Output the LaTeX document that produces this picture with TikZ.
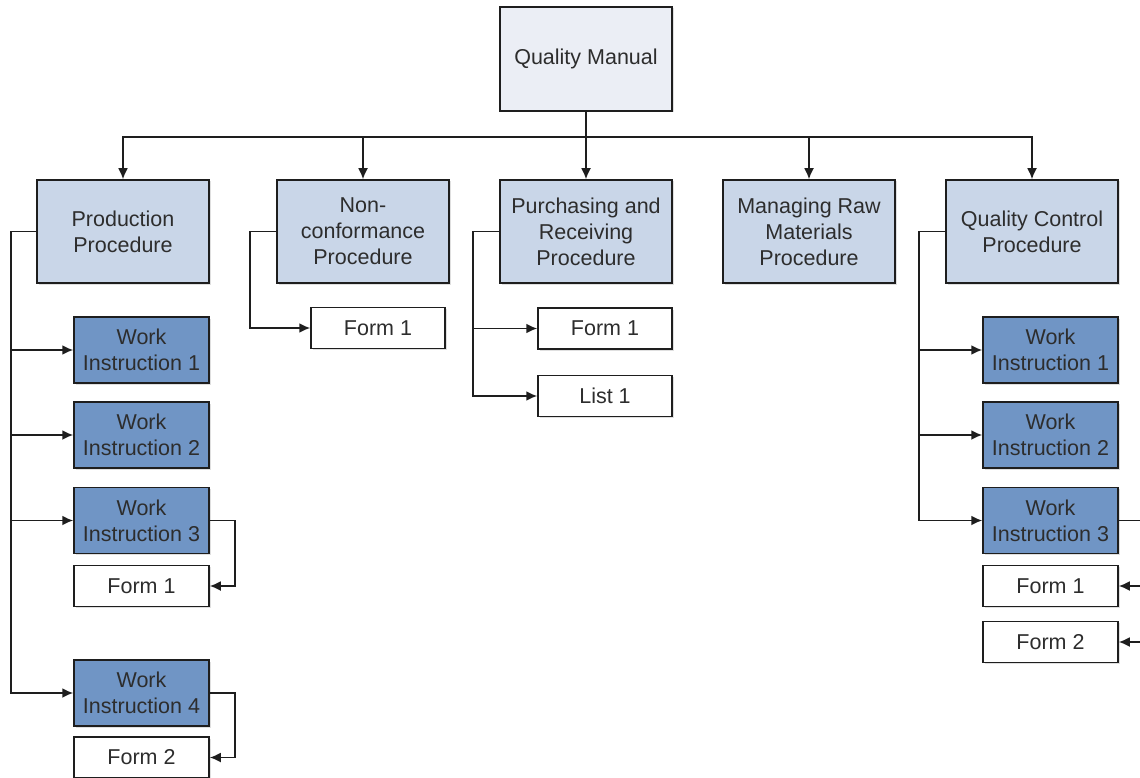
\documentclass[tikz,border=0pt]{standalone}
\usepackage{fontspec}
\setmainfont{Liberation Sans}
\usetikzlibrary{arrows.meta,shadows}
\definecolor{manualgrey}{RGB}{235,238,245}
\definecolor{procblue}{RGB}{201,214,232}
\definecolor{workblue}{RGB}{112,149,197}
\definecolor{linegrey}{RGB}{30,30,30}
\definecolor{textgrey}{RGB}{45,45,45}
\tikzset{
  doc/.style={draw=linegrey,line width=1.5pt,fill=white,align=center,text=textgrey,
              font=\fontsize{21.5}{26}\selectfont,inner sep=2pt,
              drop shadow={shadow xshift=1.5pt,shadow yshift=-1.5pt,opacity=0.25}},
  manual/.style={doc,fill=manualgrey,minimum width=172pt,minimum height=104pt},
  procedure/.style={doc,fill=procblue,minimum width=172pt,minimum height=103pt},
  instruction/.style={doc,fill=workblue,minimum width=135pt,minimum height=66pt},
  record/.style={doc,minimum width=135pt,minimum height=41pt},
  link/.style={linegrey,line width=1.8pt},
  flow/.style={link,-{Latex[length=11pt,width=10pt]}},
}
\begin{document}
\begin{tikzpicture}[x=1pt,y=-1pt]
  \path[use as bounding box] (0,0) rectangle (1140,778);

  \node[manual] (qm) at (586,59) {Quality Manual};

  % procedures
  \node[procedure] (prod) at (123,231.5) {Production\\Procedure};
  \node[procedure] (ncp) at (363,231.5) {Non-\\conformance\\Procedure};
  \node[procedure] (pur) at (586,231.5) {Purchasing and\\Receiving\\Procedure};
  \node[procedure] (raw) at (809,231.5) {Managing Raw\\Materials\\Procedure};
  \node[procedure] (qc) at (1032,231.5) {Quality Control\\Procedure};

  % production documents
  \node[instruction] (pwi1) at (141.5,350) {Work\\Instruction 1};
  \node[instruction] (pwi2) at (141.5,435) {Work\\Instruction 2};
  \node[instruction] (pwi3) at (141.5,520.5) {Work\\Instruction 3};
  \node[record] (pf1) at (141.5,586) {Form 1};
  \node[instruction] (pwi4) at (141.5,693) {Work\\Instruction 4};
  \node[record] (pf2) at (141.5,757.5) {Form 2};

  \node[record,minimum width=134pt] (nf1) at (378,328) {Form 1};
  \node[record,minimum width=134pt] (uf1) at (605,328.5) {Form 1};
  \node[record,minimum width=134pt] (ul1) at (605,396) {List 1};

  % quality control documents
  \node[instruction] (qwi1) at (1050.5,350) {Work\\Instruction 1};
  \node[instruction] (qwi2) at (1050.5,435) {Work\\Instruction 2};
  \node[instruction] (qwi3) at (1050.5,520.5) {Work\\Instruction 3};
  \node[record] (qf1) at (1050.5,586) {Form 1};
  \node[record] (qf2) at (1050.5,642) {Form 2};
  \coordinate (qcedge) at (1140,520.5);
  \coordinate (qcedge1) at (1140,586);
  \coordinate (qcedge2) at (1140,642);

  \foreach \p in {prod,ncp,pur,raw,qc}
    \draw[flow] (qm.south) -- ++(0,25) -| (\p.north);

  \foreach \c in {pwi1,pwi2,pwi3,pwi4}
    \draw[flow] (prod.west) -- ++(-25,0) |- (\c.west);
  \draw[flow] (pwi3.east) -- ++(25,0) |- (pf1.east);
  \draw[flow] (pwi4.east) -- ++(25,0) |- (pf2.east);

  \draw[flow] (ncp.west) -- ++(-26,0) |- (nf1.west);
  \foreach \c in {uf1,ul1}
    \draw[flow] (pur.west) -- ++(-26,0) |- (\c.west);

  \foreach \c in {qwi1,qwi2,qwi3}
    \draw[flow] (qc.west) -- ++(-26,0) |- (\c.west);
  \draw[link] (qwi3.east) -- (qcedge);
  \draw[flow] (qcedge1) -- (qf1.east);
  \draw[flow] (qcedge2) -- (qf2.east);
\end{tikzpicture}
\end{document}
